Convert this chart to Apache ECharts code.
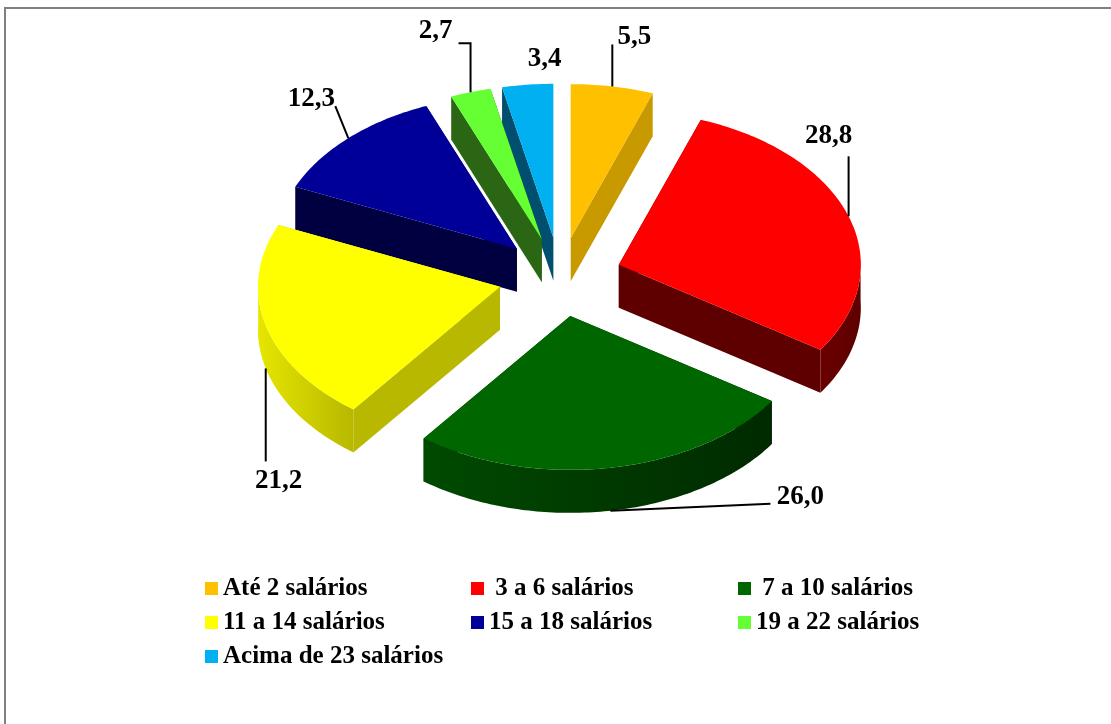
<!DOCTYPE html>
<html>
<head>
<meta charset="utf-8">
<style>
  html, body { margin: 0; padding: 0; background: #fff; }
  #chart { width: 1111px; height: 724px; }
</style>
<script src="https://cdn.jsdelivr.net/npm/echarts@6/dist/echarts.min.js"></script>
</head>
<body>
<div id="chart"></div>
<script>
// income bands and their share
var categories = ['Até 2 salários', ' 3 a 6 salários', ' 7 a 10 salários', '11 a 14 salários', '15 a 18 salários', '19 a 22 salários', 'Acima de 23 salários'];
var shares = [5.5, 28.8, 26.0, 21.2, 12.3, 2.7, 3.4];
var shareLabels = ['5,5', '28,8', '26,0', '21,2', '12,3', '2,7', '3,4'];

var topColors = ['#ffc000', '#ff0000', '#006600', '#ffff00', '#000099', '#66ff33', '#00b0f0'];
var wallColors = ['#c89a00', '#5e0000', '#002a00', '#b8b800', '#000040', '#2a6614', '#004f6e'];
var arcLightColors = ['#c89a00', '#6a0000', '#004a00', '#e6e600', '#000040', '#2a6614', '#004f6e'];

// label text position and leader elbow, relative to the point on the rim
var labelOffsets = [
  { text: [22, -49], leader: [[0, -42]] },
  { text: [-20, -80], leader: [[0, -60]] },
  { text: [190, -14], leader: [[160, -7]] },
  { text: [13, 113], leader: [[0, 93]] },
  { text: [-37, -39], leader: [[-13, -32]] },
  { text: [-35, -61], leader: [[0, -49], [-12, -49]] },
  { text: [17, -26], leader: [] }
];

var centerX = 560, centerY = 277;
var radiusX = 242, radiusY = 154;
var explode = 0.256;
var depth = 43;

var total = shares.reduce(function (a, b) { return a + b; }, 0);
var starts = [];
var sum = 0;
shares.forEach(function (v) {
  starts.push(sum / total * Math.PI * 2);
  sum += v;
});

function sliceGeometry(i) {
  var from = starts[i];
  var to = from + shares[i] / total * Math.PI * 2;
  var mid = (from + to) / 2;
  var tip = [
    centerX + explode * radiusX * Math.sin(mid),
    centerY - explode * radiusY * Math.cos(mid)
  ];
  function rim(a) {
    return [tip[0] + radiusX * Math.sin(a), tip[1] - radiusY * Math.cos(a)];
  }
  return { from: from, to: to, mid: mid, tip: tip, rim: rim };
}

function down(p) {
  return [p[0], p[1] + depth];
}

function renderSlice(params) {
  var i = params.seriesIndex;
  var g = sliceGeometry(i);
  var steps = Math.max(6, Math.ceil((g.to - g.from) * 60));
  var arc = [];
  for (var s = 0; s <= steps; s++) {
    arc.push(g.rim(g.from + (g.to - g.from) * s / steps));
  }
  var first = arc[0], last = arc[arc.length - 1];
  var children = [];

  // radial walls
  [first, last].forEach(function (p) {
    children.push({
      type: 'polygon',
      shape: { points: [g.tip, p, down(p), down(g.tip)] },
      style: { fill: wallColors[i] },
      silent: true
    });
  });

  // outer wall, only the front half of the rim shows
  var front = arc.filter(function (p, k) {
    var a = g.from + (g.to - g.from) * k / steps;
    return Math.cos(a) < 0.05;
  });
  if (front.length > 1) {
    var xs = front.map(function (p) { return p[0]; });
    var minX = Math.min.apply(null, xs), maxX = Math.max.apply(null, xs);
    // the lighter end of the band faces left in the original
    children.push({
      type: 'polygon',
      shape: { points: front.concat(front.map(down).reverse()) },
      style: {
        fill: new echarts.graphic.LinearGradient(minX, 0, maxX, 0, [
          { offset: 0, color: arcLightColors[i] },
          { offset: 1, color: wallColors[i] }
        ], true)
      },
      silent: true
    });
  }

  // top face
  children.push({
    type: 'polygon',
    shape: { points: [g.tip].concat(arc) },
    style: { fill: topColors[i] },
    silent: true
  });

  // leader line and value label, anchored at the slice's middle on the rim
  var anchor = g.rim(g.mid);
  if (Math.cos(g.mid) < 0) anchor = down(anchor);
  var off = labelOffsets[i];
  if (off.leader.length) {
    var pts = [anchor].concat(off.leader.map(function (d) {
      return [anchor[0] + d[0], anchor[1] + d[1]];
    }));
    children.push({
      type: 'polyline',
      shape: { points: pts },
      style: { fill: null, stroke: '#000', lineWidth: 2 },
      z2: 5,
      silent: true
    });
  }
  children.push({
    type: 'text',
    x: anchor[0] + off.text[0],
    y: anchor[1] + off.text[1],
    style: {
      text: shareLabels[i],
      font: 'bold 27px "Liberation Serif"',
      fill: '#000',
      align: 'center',
      verticalAlign: 'middle'
    },
    z2: 6,
    silent: true
  });

  return { type: 'group', children: children };
}

// back slices paint first
var order = shares.map(function (v, i) { return i; }).sort(function (a, b) {
  return Math.cos(sliceGeometry(b).mid) - Math.cos(sliceGeometry(a).mid);
});

var chart = echarts.init(document.getElementById('chart'));

function legendColumn(names, left) {
  return {
    orient: 'vertical',
    left: left,
    top: 571,
    itemWidth: 13,
    itemHeight: 13,
    itemGap: 9,
    icon: 'rect',
    selectedMode: false,
    data: names,
    textStyle: {
      fontFamily: 'Liberation Serif',
      fontWeight: 'bold',
      fontSize: 25,
      lineHeight: 22,
      color: '#000'
    }
  };
}

var option = {
  animation: false,
  backgroundColor: '#fff',
  graphic: [{
    // the frame only shows on the top and left, the rest is cropped away
    type: 'polyline',
    shape: { points: [[5, 724], [5, 8], [1111, 8]] },
    style: { fill: null, stroke: '#808080', lineWidth: 2 },
    silent: true
  }],
  legend: [
    legendColumn([categories[0], categories[3], categories[6]], 200),
    legendColumn([categories[1], categories[4]], 466),
    legendColumn([categories[2], categories[5]], 733)
  ],
  series: categories.map(function (name, i) {
    return {
      type: 'custom',
      name: name,
      coordinateSystem: 'none',
      z: 2 + order.indexOf(i),
      itemStyle: { color: topColors[i] },
      renderItem: renderSlice,
      data: [shares[i]],
      clip: false
    };
  })
};

chart.setOption(option);
</script>
</body>
</html>
